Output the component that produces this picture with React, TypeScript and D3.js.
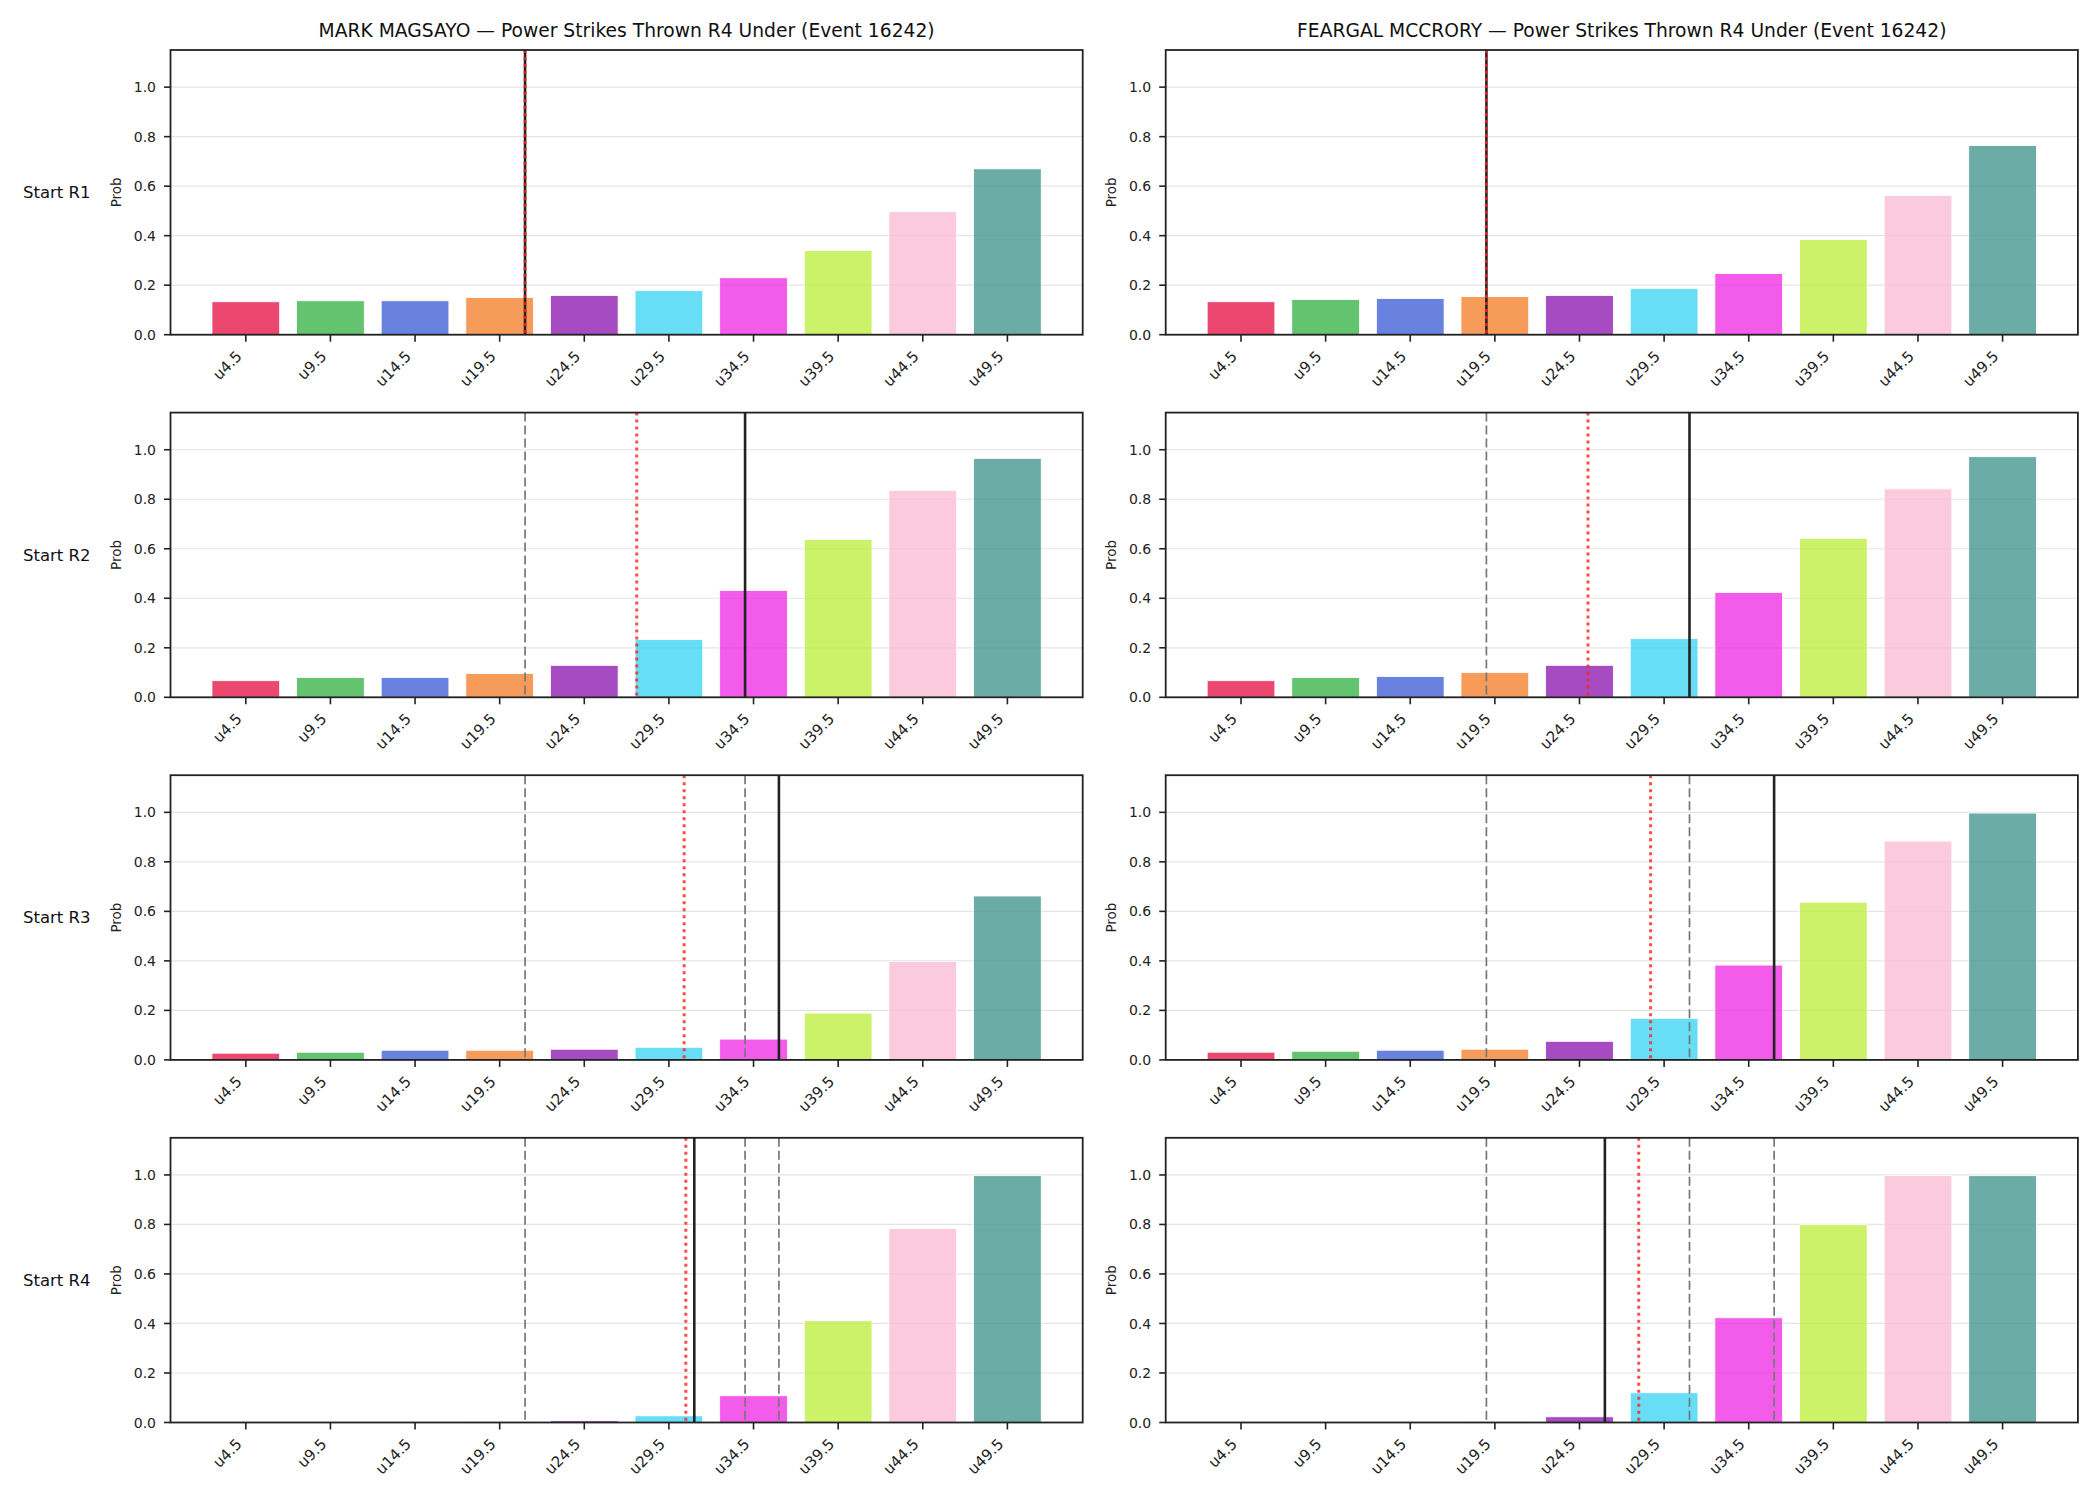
import React, { useEffect, useRef } from 'react';
import * as d3 from 'd3';

const thresholds = ['u4.5', 'u9.5', 'u14.5', 'u19.5', 'u24.5', 'u29.5', 'u34.5', 'u39.5', 'u44.5', 'u49.5'];
const thresholdLines = [4.5, 49.5];
const rounds = ['Start R1', 'Start R2', 'Start R3', 'Start R4'];
const barColors = ['#e6194b', '#3cb44b', '#4363d8', '#f58231', '#911eb4', '#42d4f4', '#f032e6', '#bfef45', '#fabed4', '#469990'];

// P(under) per threshold, one row per round start
const magsayoProbs = [
  [0.133, 0.137, 0.137, 0.150, 0.158, 0.178, 0.230, 0.340, 0.497, 0.670],
  [0.067, 0.080, 0.080, 0.096, 0.129, 0.233, 0.431, 0.637, 0.836, 0.965],
  [0.027, 0.031, 0.039, 0.039, 0.043, 0.051, 0.084, 0.189, 0.398, 0.662],
  [0.0005, 0.001, 0.002, 0.003, 0.007, 0.027, 0.108, 0.411, 0.783, 0.997],
];
const mccroryProbs = [
  [0.133, 0.142, 0.146, 0.154, 0.158, 0.186, 0.247, 0.384, 0.562, 0.764],
  [0.067, 0.080, 0.084, 0.100, 0.129, 0.237, 0.423, 0.642, 0.842, 0.972],
  [0.031, 0.035, 0.039, 0.043, 0.075, 0.168, 0.383, 0.637, 0.884, 0.997],
  [0.0003, 0.0008, 0.002, 0.003, 0.023, 0.120, 0.423, 0.799, 0.997, 0.997],
];

// projected strikes (black) and pace (red dotted) at each round start
const magsayoProjected = [21, 34, 36, 31];
const magsayoPace = [21, 27.6, 30.4, 30.5];
const mccroryProjected = [19, 31, 36, 26];
const mccroryPace = [19, 25, 28.7, 28];

const fighters = [
  { name: 'MARK MAGSAYO', probs: magsayoProbs, projected: magsayoProjected, pace: magsayoPace },
  { name: 'FEARGAL MCCRORY', probs: mccroryProbs, projected: mccroryProjected, pace: mccroryPace },
];

const yTicks = [0, 0.2, 0.4, 0.6, 0.8, 1.0];

const W = 2100;
const H = 1500;
const FONT = '"DejaVu Sans", sans-serif';

const App = () => {
  const ref = useRef<SVGSVGElement>(null);

  useEffect(() => {
    const svg = d3.select(ref.current);
    svg.selectAll('*').remove();
    svg.append('rect').attr('width', W).attr('height', H).attr('fill', '#fff');

    const colLeft = [170.5, 1165.7];
    const plotW = 912.2;
    const plotH = 284.7;
    const rowTop = (i: number) => 50 + i * 362.6;

    const x = d3.scaleBand<number>()
      .domain(d3.range(thresholds.length))
      .range([0, plotW])
      .paddingInner(0.2)
      .paddingOuter(0.49);
    const center = (i: number) => (x(i) as number) + x.bandwidth() / 2;
    const xStrike = d3.scaleLinear()
      .domain(thresholdLines)
      .range([center(0), center(thresholds.length - 1)]);
    const y = d3.scaleLinear().domain([0, 1.15]).range([plotH, 0]);

    fighters.forEach((f, c) => {
      rounds.forEach((roundLabel, r) => {
        const g = svg.append('g')
          .attr('transform', `translate(${colLeft[c]},${rowTop(r)})`);

        // grid
        g.selectAll('.grid')
          .data(yTicks)
          .enter()
          .append('line')
          .attr('x1', 0)
          .attr('x2', plotW)
          .attr('y1', d => y(d))
          .attr('y2', d => y(d))
          .attr('stroke', '#e4e4e4')
          .attr('stroke-width', 1.2);

        // bars
        g.selectAll('.bar')
          .data(f.probs[r])
          .enter()
          .append('rect')
          .attr('x', (d, i) => x(i) as number)
          .attr('width', x.bandwidth())
          .attr('y', d => y(d))
          .attr('height', d => plotH - y(d))
          .attr('fill', (d, i) => barColors[i])
          .attr('fill-opacity', 0.8)
          .attr('stroke', '#fff')
          .attr('stroke-width', 0.8);

        // earlier projections, dashed gray
        const earlier = f.projected.slice(0, r);
        g.selectAll('.prev')
          .data(earlier)
          .enter()
          .append('line')
          .attr('x1', d => xStrike(d))
          .attr('x2', d => xStrike(d))
          .attr('y1', 0)
          .attr('y2', plotH)
          .attr('stroke', '#777')
          .attr('stroke-width', 1.7)
          .attr('stroke-dasharray', '9,4');

        g.append('line')
          .attr('x1', xStrike(f.projected[r]))
          .attr('x2', xStrike(f.projected[r]))
          .attr('y1', 0)
          .attr('y2', plotH)
          .attr('stroke', '#222')
          .attr('stroke-width', 2.6);

        g.append('line')
          .attr('x1', xStrike(f.pace[r]))
          .attr('x2', xStrike(f.pace[r]))
          .attr('y1', 0)
          .attr('y2', plotH)
          .attr('stroke', '#ff2020')
          .attr('stroke-opacity', 0.8)
          .attr('stroke-width', 3)
          .attr('stroke-dasharray', '3,4');

        // y axis ticks and labels
        const yAxis = g.append('g');
        yTicks.forEach(t => {
          yAxis.append('line')
            .attr('x1', -6.5).attr('x2', 0)
            .attr('y1', y(t)).attr('y2', y(t))
            .attr('stroke', '#222').attr('stroke-width', 1.6);
          yAxis.append('text')
            .attr('x', -14.5)
            .attr('y', y(t))
            .attr('dy', '0.36em')
            .attr('text-anchor', 'end')
            .style('font-family', FONT)
            .style('font-size', '14px')
            .style('fill', '#222')
            .text(t.toFixed(1));
        });

        // x axis ticks and rotated labels
        thresholds.forEach((label, i) => {
          const cx = center(i);
          g.append('line')
            .attr('x1', cx).attr('x2', cx)
            .attr('y1', plotH).attr('y2', plotH + 7)
            .attr('stroke', '#222').attr('stroke-width', 1.6);
          g.append('text')
            .attr('transform', `translate(${cx - 3},${plotH + 22.5}) rotate(-45)`)
            .attr('text-anchor', 'end')
            .style('font-family', FONT)
            .style('font-size', '15px')
            .style('fill', '#222')
            .text(label);
        });

        // frame
        g.append('rect')
          .attr('width', plotW)
          .attr('height', plotH)
          .attr('fill', 'none')
          .attr('stroke', '#222')
          .attr('stroke-width', 1.8);

        g.append('text')
          .attr('transform', `translate(-50,${plotH / 2}) rotate(-90)`)
          .attr('text-anchor', 'middle')
          .style('font-family', FONT)
          .style('font-size', '13.5px')
          .style('fill', '#222')
          .text('Prob');

        if (c === 0) {
          g.append('text')
            .attr('x', 23 - colLeft[0])
            .attr('y', plotH / 2)
            .attr('dy', '0.36em')
            .style('font-family', FONT)
            .style('font-size', '16.5px')
            .style('fill', '#111')
            .text(roundLabel);
        }

        if (r === 0) {
          g.append('text')
            .attr('x', plotW / 2)
            .attr('y', -13)
            .attr('text-anchor', 'middle')
            .style('font-family', FONT)
            .style('font-size', '18.7px')
            .style('fill', '#111')
            .text(`${f.name} — Power Strikes Thrown R4 Under (Event 16242)`);
        }
      });
    });
  }, []);

  return (
    <div style={{ position: 'absolute', left: 0, top: 0 }}>
      <svg ref={ref} width={W} height={H} style={{ display: 'block' }}></svg>
    </div>
  );
};

export default App;
